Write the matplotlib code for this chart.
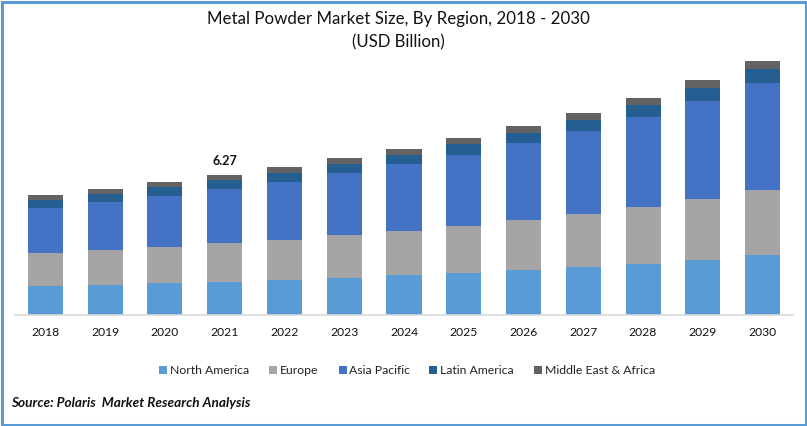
import matplotlib
matplotlib.use("Agg")
import matplotlib.pyplot as plt
from matplotlib.patches import Rectangle
import numpy as np

years = ["2018","2019","2020","2021","2022","2023","2024","2025","2026","2027","2028","2029","2030"]
north_america = [1.30,1.34,1.43,1.48,1.57,1.66,1.79,1.88,2.02,2.15,2.28,2.46,2.69]
europe = [1.48,1.57,1.61,1.75,1.79,1.93,1.97,2.10,2.24,2.37,2.55,2.73,2.91]
asia_pacific = [2.02,2.15,2.28,2.42,2.60,2.78,3.00,3.18,3.45,3.72,4.03,4.39,4.79]
latin_america = [0.36,0.36,0.40,0.40,0.40,0.40,0.40,0.49,0.45,0.49,0.54,0.58,0.63]
mea = [0.22,0.22,0.22,0.22,0.27,0.27,0.27,0.27,0.31,0.31,0.31,0.36,0.36]
series = [("North America",north_america,"#5B9BD5"),("Europe",europe,"#A5A5A5"),
          ("Asia Pacific",asia_pacific,"#4472C4"),("Latin America",latin_america,"#255E91"),
          ("Middle East & Africa",mea,"#636363")]
W,H = 807,426
plt.rcParams['font.family'] = ['Lato','DejaVu Sans']
fig = plt.figure(figsize=(W/100,H/100),dpi=100,facecolor="white")
ax = fig.add_axes([15/W,(H-315)/H,778/W,275/H])
x = np.arange(len(years))
bottom = np.zeros(len(years))
for name,vals,c in series:
    ax.bar(x,vals,0.586,bottom=bottom,color=c,label=name,linewidth=0)
    bottom += np.array(vals)
ax.set_xlim(-0.51,12.51)
ax.set_ylim(0,12.31)
ax.set_yticks([])
ax.set_xticks(x,years)
ax.tick_params(axis='x',length=0,pad=9,labelsize=8.7,colors="#111111")
for s in ("top","left","right"):
    ax.spines[s].set_visible(False)
ax.spines["bottom"].set_color("#D9D9D9")
ax.spines["bottom"].set_linewidth(1.2)
ax.text(x[3],bottom[3]+0.36,"6.27",ha="center",va="bottom",fontsize=9,fontweight="bold",color="#111111")

fig.text(398/W,1-19/H,"Metal Powder Market Size, By Region, 2018 - 2030",ha="center",va="center",fontsize=12.2,color="#111111")
fig.text(398/W,1-42/H,"(USD Billion)",ha="center",va="center",fontsize=12.1,color="#111111")
fig.text(11/W,1-403/H,"Source: Polaris  Market Research Analysis",ha="left",va="center",fontsize=9.8,
         fontweight="bold",fontstyle="italic",color="#111111")
leg = [(159,170),(269,280),(339,349),(429,440),(534,545)]
for (name,_,c),(bx,tx) in zip(series,leg):
    fig.add_artist(Rectangle((bx/W,1-374/H),8/W,8/H,transform=fig.transFigure,facecolor=c,edgecolor="none"))
    fig.text(tx/W,1-370/H,name,ha="left",va="center",fontsize=8.8,color="#222222")
fig.add_artist(Rectangle((1.5/W,1.5/H),(W-3)/W,(H-3)/H,transform=fig.transFigure,fill=False,edgecolor="#5B9BD5",linewidth=2.2))
fig.savefig("out.png",dpi=100)
